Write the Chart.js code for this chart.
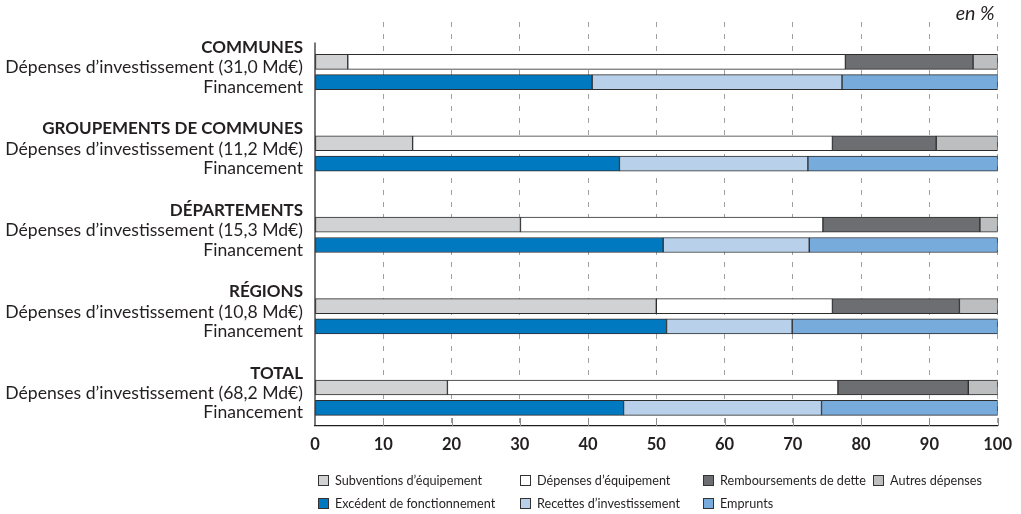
<!DOCTYPE html>
<html>
<head>
<meta charset="utf-8">
<script src="https://cdn.jsdelivr.net/npm/chart.js@4/dist/chart.umd.min.js"></script>
<style>
  html, body { margin: 0; padding: 0; background: #fff; }
  #wrap { width: 1021px; height: 514px; position: relative; }
</style>
</head>
<body>
<div id="wrap"><canvas id="c" width="1021" height="514"></canvas></div>
<script>
// Collectivity groups and their investment spending (Md€)
const groups = ['COMMUNES', 'GROUPEMENTS DE COMMUNES', 'DÉPARTEMENTS', 'RÉGIONS', 'TOTAL'];
const amounts = ['31,0', '11,2', '15,3', '10,8', '68,2'];
const spendingLabel = 'Dépenses d’investissement';
const fundingLabel = 'Financement';

// Spending breakdown, in %
const subventions = [4.8, 14.3, 30.1, 50.0, 19.4];
const depensesEquipement = [72.9, 61.5, 44.3, 25.8, 57.2];
const remboursements = [18.7, 15.2, 23.0, 18.6, 19.1];
const autresDepenses = [3.6, 9.0, 2.6, 5.6, 4.3];

// Funding breakdown, in %
const excedent = [40.6, 44.6, 51.0, 51.5, 45.2];
const recettes = [36.6, 27.6, 21.4, 18.4, 29.0];
const emprunts = [22.8, 27.8, 27.6, 30.1, 25.8];

// Value axis ticks
const xTicks = [0, 10, 20, 30, 40, 50, 60, 70, 80, 90, 100];

const TEXT = '#231f20';
const FONT = 'Lato, "Open Sans", sans-serif';

// Row layout: each group uses a header row, a spending row and a funding row, then a gap
const headerRow = g => 4 * g;
const spendRow = g => 4 * g + 1;
const fundRow = g => 4 * g + 2;
const Y_MIN = -0.958, Y_MAX = 18.894;

const series = [
  { label: 'Subventions d’équipement', values: subventions, color: '#d1d2d4', row: spendRow },
  { label: 'Dépenses d’équipement', values: depensesEquipement, color: '#ffffff', row: spendRow },
  { label: 'Remboursements de dette', values: remboursements, color: '#6d6e71', row: spendRow },
  { label: 'Autres dépenses', values: autresDepenses, color: '#bcbec0', row: spendRow },
  { label: 'Excédent de fonctionnement', values: excedent, color: '#0079c1', row: fundRow },
  { label: 'Recettes d’investissement', values: recettes, color: '#b9d0ea', row: fundRow },
  { label: 'Emprunts', values: emprunts, color: '#77abdb', row: fundRow }
];

const datasets = series.map(s => ({
  label: s.label,
  data: s.values.map((v, g) => ({ x: v, y: s.row(g) })),
  backgroundColor: s.color,
  borderColor: '#2d2d2d',
  borderWidth: 1,
  borderSkipped: false,
  barThickness: 15,
  stack: 'all'
}));

// font size giving a text the requested width
function fitFont(ctx, style, text, width) {
  ctx.font = style + ' 20px ' + FONT;
  const w = ctx.measureText(text).width;
  return style + ' ' + (20 * width / w).toFixed(2) + 'px ' + FONT;
}

// Row labels, axis line, inner tick marks, unit note and legend
const decorations = {
  id: 'decorations',
  afterDraw(chart) {
    const { ctx, chartArea } = chart;
    const xs = chart.scales.x, ys = chart.scales.y;
    ctx.save();

    // left axis
    ctx.strokeStyle = TEXT;
    ctx.lineWidth = 1.2;
    ctx.beginPath();
    ctx.moveTo(xs.getPixelForValue(0), ys.getPixelForValue(headerRow(0)) + 1);
    ctx.lineTo(xs.getPixelForValue(0), chartArea.bottom);
    ctx.stroke();

    // small solid ticks rising from the bottom axis
    ctx.strokeStyle = '#8c8c8c';
    ctx.lineWidth = 1;
    xTicks.forEach(t => {
      if (t === 0) return;
      const px = Math.round(xs.getPixelForValue(t)) + 0.5;
      ctx.beginPath();
      ctx.moveTo(px, chartArea.bottom - 8);
      ctx.lineTo(px, chartArea.bottom);
      ctx.stroke();
    });

    // row labels
    const headFont = fitFont(ctx, 'bold', groups[1], 261);
    const rowFont = fitFont(ctx, 'normal', spendingLabel + ' (' + amounts[0] + ' Md€)', 298);
    ctx.fillStyle = TEXT;
    ctx.textAlign = 'right';
    ctx.textBaseline = 'alphabetic';
    const lx = chartArea.left - 12;
    groups.forEach((name, g) => {
      ctx.font = headFont;
      ctx.fillText(name, lx, ys.getPixelForValue(headerRow(g)) + 11.5);
      ctx.font = rowFont;
      ctx.fillText(spendingLabel + ' (' + amounts[g] + ' Md€)', lx, ys.getPixelForValue(spendRow(g)) + 11.5);
      ctx.fillText(fundingLabel, lx, ys.getPixelForValue(fundRow(g)) + 10.5);
    });

    // unit note
    ctx.font = fitFont(ctx, 'italic', 'en %', 39);
    ctx.textAlign = 'right';
    ctx.fillText('en %', chartArea.right - 3, 20);

    // legend, two rows on shared columns
    const cols = [chartArea.left, 517, 700, 870];
    const rows = [480, 503];
    const layout = [[0, 1, 2, 3], [4, 5, 6]];
    ctx.font = fitFont(ctx, 'normal', series[2].label, 146);
    ctx.textAlign = 'left';
    ctx.textBaseline = 'middle';
    layout.forEach((items, r) => {
      items.forEach((di, c) => {
        const ds = chart.data.datasets[di];
        const bx = cols[c] + 3, by = rows[r] - 5;
        ctx.fillStyle = ds.backgroundColor;
        ctx.fillRect(bx, by, 11, 11);
        ctx.strokeStyle = '#333';
        ctx.lineWidth = 1;
        ctx.strokeRect(bx + 0.5, by + 0.5, 10, 10);
        ctx.fillStyle = TEXT;
        ctx.fillText(ds.label, bx + 17, rows[r] + 1);
      });
    });
    ctx.restore();
  }
};

new Chart(document.getElementById('c'), {
  type: 'bar',
  data: { datasets },
  options: {
    indexAxis: 'y',
    responsive: false,
    animation: false,
    devicePixelRatio: 1,
    layout: { padding: { left: 315, right: 23, top: 22, bottom: 0 } },
    plugins: { legend: { display: false }, tooltip: { enabled: false } },
    scales: {
      x: {
        type: 'linear',
        min: 0,
        max: 100,
        stacked: true,
        afterFit: s => { s.height = 88; },
        afterBuildTicks: s => { s.ticks = xTicks.map(v => ({ value: v })); },
        grid: {
          drawTicks: false,
          color: c => (c.tick && c.tick.value === 0) ? 'rgba(0,0,0,0)' : '#a0a0a0',
          lineWidth: 1
        },
        border: { display: true, color: TEXT, width: 1.2, dash: [5, 7] },
        ticks: {
          padding: 9,
          color: TEXT,
          font: { family: FONT, size: 16.5, weight: 'bold' }
        }
      },
      y: {
        type: 'linear',
        reverse: true,
        min: Y_MIN,
        max: Y_MAX,
        offset: false,
        grace: 0,
        bounds: 'data',
        stacked: true,
        display: false,
        afterDataLimits: s => { s.min = Y_MIN; s.max = Y_MAX; }
      }
    }
  },
  plugins: [decorations]
});
</script>
</body>
</html>
